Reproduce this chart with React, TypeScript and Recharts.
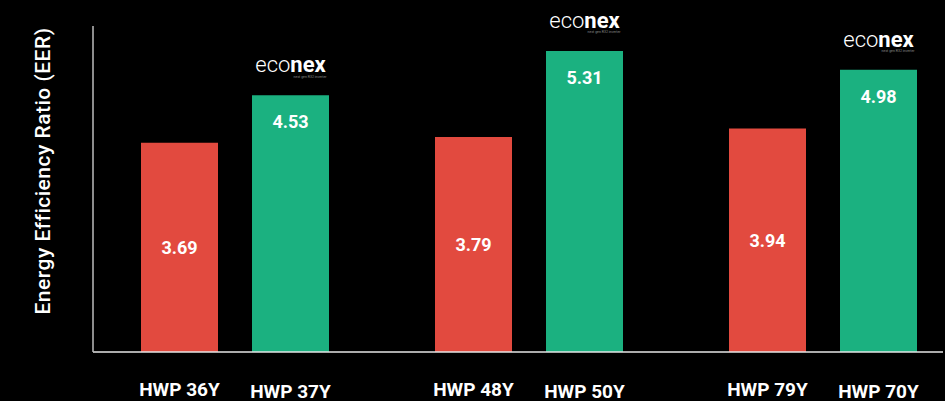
import React from "react";
import { BarChart, Bar, XAxis, YAxis, LabelList, Label } from "recharts";

// model names per comparison group
const competitorModels = ["HWP 36Y", "HWP 48Y", "HWP 79Y"];
const econexModels = ["HWP 37Y", "HWP 50Y", "HWP 70Y"];

// EER values
const competitorEER = [3.69, 3.79, 3.94];
const econexEER = [4.53, 5.31, 4.98];

const yTitle = "Energy Efficiency Ratio (EER)";

const RED = "#E24A3F";
const GREEN = "#1BB180";
const FONT = "Roboto, sans-serif";

const W = 945;
const H = 401;
const TOP = 26;
const X_AXIS_H = 49;
const PLOT_BOTTOM = H - X_AXIS_H;
const BAR_SIZE = 77;
const BAR_GAP = 34;
const HALF = (BAR_SIZE + BAR_GAP) / 2;

const data = competitorModels.map((m, i) => ({
  group: `${m} | ${econexModels[i]}`,
  competitor: competitorEER[i],
  econex: econexEER[i],
}));

function GroupTick(props: any) {
  const { x, payload } = props;
  const i = payload.index;
  return (
    <g fontFamily={FONT} fontWeight={700} fontSize={19} fill="#fff">
      <text x={x - HALF} y={PLOT_BOTTOM + 44} textAnchor="middle" fill="#fff">
        {competitorModels[i]}
      </text>
      <text x={x + HALF} y={PLOT_BOTTOM + 45.5} textAnchor="middle" fill="#fff">
        {econexModels[i]}
      </text>
    </g>
  );
}

function RedValue(props: any) {
  const x = Number(props.x);
  const y = Number(props.y);
  const w = Number(props.width);
  const h = Number(props.height);
  return (
    <text
      x={x + w / 2}
      y={y + h / 2}
      dominantBaseline="central"
      textAnchor="middle"
      fill="#fff"
      fontFamily={FONT}
      fontWeight={700}
      fontSize={18}
    >
      {Number(props.value).toFixed(2)}
    </text>
  );
}

function GreenValue(props: any) {
  const x = Number(props.x);
  const y = Number(props.y);
  const w = Number(props.width);
  const cx = x + w / 2;
  return (
    <g fontFamily={FONT}>
      <text
        x={cx}
        y={y + 33}
        textAnchor="middle"
        fill="#fff"
        fontWeight={700}
        fontSize={18}
      >
        {Number(props.value).toFixed(2)}
      </text>
      <text x={cx} y={y - 23} textAnchor="middle" fill="#fff" fontSize={22}>
        <tspan fontWeight={300}>eco</tspan>
        <tspan fontWeight={700}>nex</tspan>
      </text>
      <text x={cx + 36} y={y - 17.5} textAnchor="end" fill="#888" fontSize={3.5}>
        next gen R32 inverter
      </text>
    </g>
  );
}

function YTitle() {
  return (
    <text
      x={43}
      y={171}
      transform="rotate(-90 43 171)"
      textAnchor="middle"
      dominantBaseline="central"
      fill="#fff"
      fontFamily={FONT}
      fontWeight={500}
      fontSize={21}
      letterSpacing={0.5}
    >
      {yTitle}
    </text>
  );
}

export default function App() {
  return (
    <div
      style={{
        position: "absolute",
        left: 0,
        top: 0,
        width: W,
        height: H,
        background: "#000",
        overflow: "hidden",
      }}
    >
      <BarChart
        width={W}
        height={H}
        data={data}
        margin={{ top: TOP, right: 2, bottom: 0, left: 0 }}
        barSize={BAR_SIZE}
        barGap={BAR_GAP}
      >
        <XAxis
          dataKey="group"
          height={X_AXIS_H}
          tickLine={false}
          axisLine={{ stroke: "#e6e6e6", strokeWidth: 1.5 }}
          tick={<GroupTick />}
          interval={0}
          padding={{ left: -5, right: -27 }}
        />
        <YAxis
          width={93}
          domain={[0, 5.75]}
          tick={false}
          tickLine={false}
          axisLine={{ stroke: "#bdbdbd", strokeWidth: 1.5 }}
        >
          <Label content={<YTitle />} />
        </YAxis>
        <Bar dataKey="competitor" fill={RED} isAnimationActive={false}>
          <LabelList dataKey="competitor" content={<RedValue />} />
        </Bar>
        <Bar dataKey="econex" fill={GREEN} isAnimationActive={false}>
          <LabelList dataKey="econex" content={<GreenValue />} />
        </Bar>
      </BarChart>
    </div>
  );
}
